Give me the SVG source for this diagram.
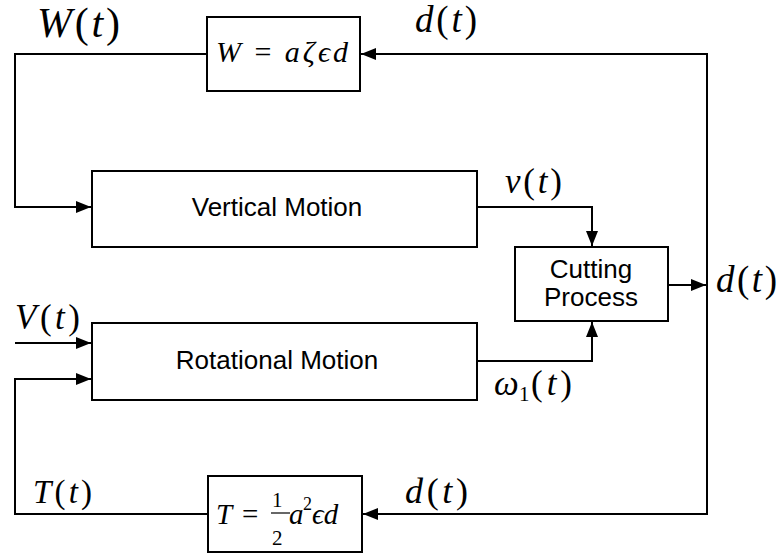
<svg xmlns="http://www.w3.org/2000/svg" width="779" height="554" viewBox="0 0 779 554">
<style>
.box{fill:#fff;stroke:#000;stroke-width:2}
.ln{fill:none;stroke:#000;stroke-width:2}
.lbl{font-family:"Liberation Sans",Arial,sans-serif;font-size:26px;fill:#000}
.m{font-family:"Liberation Serif","DejaVu Serif",serif;font-style:italic;fill:#000}
.r{font-style:normal}
</style>
<defs>
<marker id="ah" markerUnits="userSpaceOnUse" markerWidth="16" markerHeight="12" refX="15" refY="6" orient="auto">
<path d="M0,0 L15,6 L0,12 Z" fill="#000"/>
</marker>
</defs>
<rect width="779" height="554" fill="#fff"/>
<g id="connectors">
<path class="ln" d="M207,54 H15 V207 H91" marker-end="url(#ah)"/>
<path class="ln" d="M15,343 H91" marker-end="url(#ah)"/>
<path class="ln" d="M208,514 H15 V379 H91" marker-end="url(#ah)"/>
<path class="ln" d="M477,207 H592 V246" marker-end="url(#ah)"/>
<path class="ln" d="M477,361 H592 V322" marker-end="url(#ah)"/>
<path class="ln" d="M668,285 H706" marker-end="url(#ah)"/>
<path class="ln" d="M707,285 V54 H361" marker-end="url(#ah)"/>
<path class="ln" d="M707,285 V514 H363" marker-end="url(#ah)"/>
</g>
<g id="w-gain">
<rect class="box" x="207" y="17" width="153" height="74"/>
<text class="m" x="216" y="62" font-size="30" textLength="132" lengthAdjust="spacing">W <tspan class="r">=</tspan> aζϵd</text>
</g>
<g id="vertical-motion">
<rect class="box" x="92" y="171" width="385" height="76"/>
<text class="lbl" x="277" y="216" text-anchor="middle">Vertical Motion</text>
</g>
<g id="rotational-motion">
<rect class="box" x="92" y="323" width="385" height="77"/>
<text class="lbl" x="277" y="369" text-anchor="middle">Rotational Motion</text>
</g>
<g id="cutting-process">
<rect class="box" x="515" y="247" width="153" height="74"/>
<text class="lbl" x="591" y="278" text-anchor="middle" font-size="23">Cutting</text>
<text class="lbl" x="591" y="306" text-anchor="middle" font-size="23">Process</text>
</g>
<g id="t-gain">
<rect class="box" x="208" y="476" width="154" height="76"/>
<text class="m" x="216" y="524" font-size="29">T</text>
<text class="m r" x="242" y="524" font-size="29">=</text>
<text class="m r" x="272" y="507" font-size="21">1</text>
<line x1="271" y1="513" x2="290" y2="513" stroke="#000" stroke-width="1.2"/>
<text class="m r" x="272" y="545" font-size="21">2</text>
<text class="m" x="289" y="524" font-size="29">a</text>
<text class="m r" x="303" y="510" font-size="18">2</text>
<text class="m" x="312" y="524" font-size="29">ϵd</text>
</g>
<g id="labels">
<text class="m" x="37" y="37" font-size="42" textLength="83" lengthAdjust="spacing">W<tspan class="r">(</tspan>t<tspan class="r">)</tspan></text>
<text class="m" x="415" y="32" font-size="37" textLength="62" lengthAdjust="spacing">d<tspan class="r">(</tspan>t<tspan class="r">)</tspan></text>
<text class="m" x="505" y="193" font-size="35" textLength="57" lengthAdjust="spacing">v<tspan class="r">(</tspan>t<tspan class="r">)</tspan></text>
<text class="m" x="716" y="292" font-size="37" textLength="61" lengthAdjust="spacing">d<tspan class="r">(</tspan>t<tspan class="r">)</tspan></text>
<text class="m" x="15" y="329" font-size="35" textLength="65" lengthAdjust="spacing">V<tspan class="r">(</tspan>t<tspan class="r">)</tspan></text>
<text class="m" x="494" y="395" font-size="35">ω</text>
<text class="m r" x="519" y="401" font-size="21">1</text>
<text class="m" x="531" y="395" font-size="35" textLength="41" lengthAdjust="spacing"><tspan class="r">(</tspan>t<tspan class="r">)</tspan></text>
<text class="m" x="33" y="503" font-size="33" textLength="59" lengthAdjust="spacing">T<tspan class="r">(</tspan>t<tspan class="r">)</tspan></text>
<text class="m" x="405" y="503" font-size="36" textLength="63" lengthAdjust="spacing">d<tspan class="r">(</tspan>t<tspan class="r">)</tspan></text>
</g>
</svg>
